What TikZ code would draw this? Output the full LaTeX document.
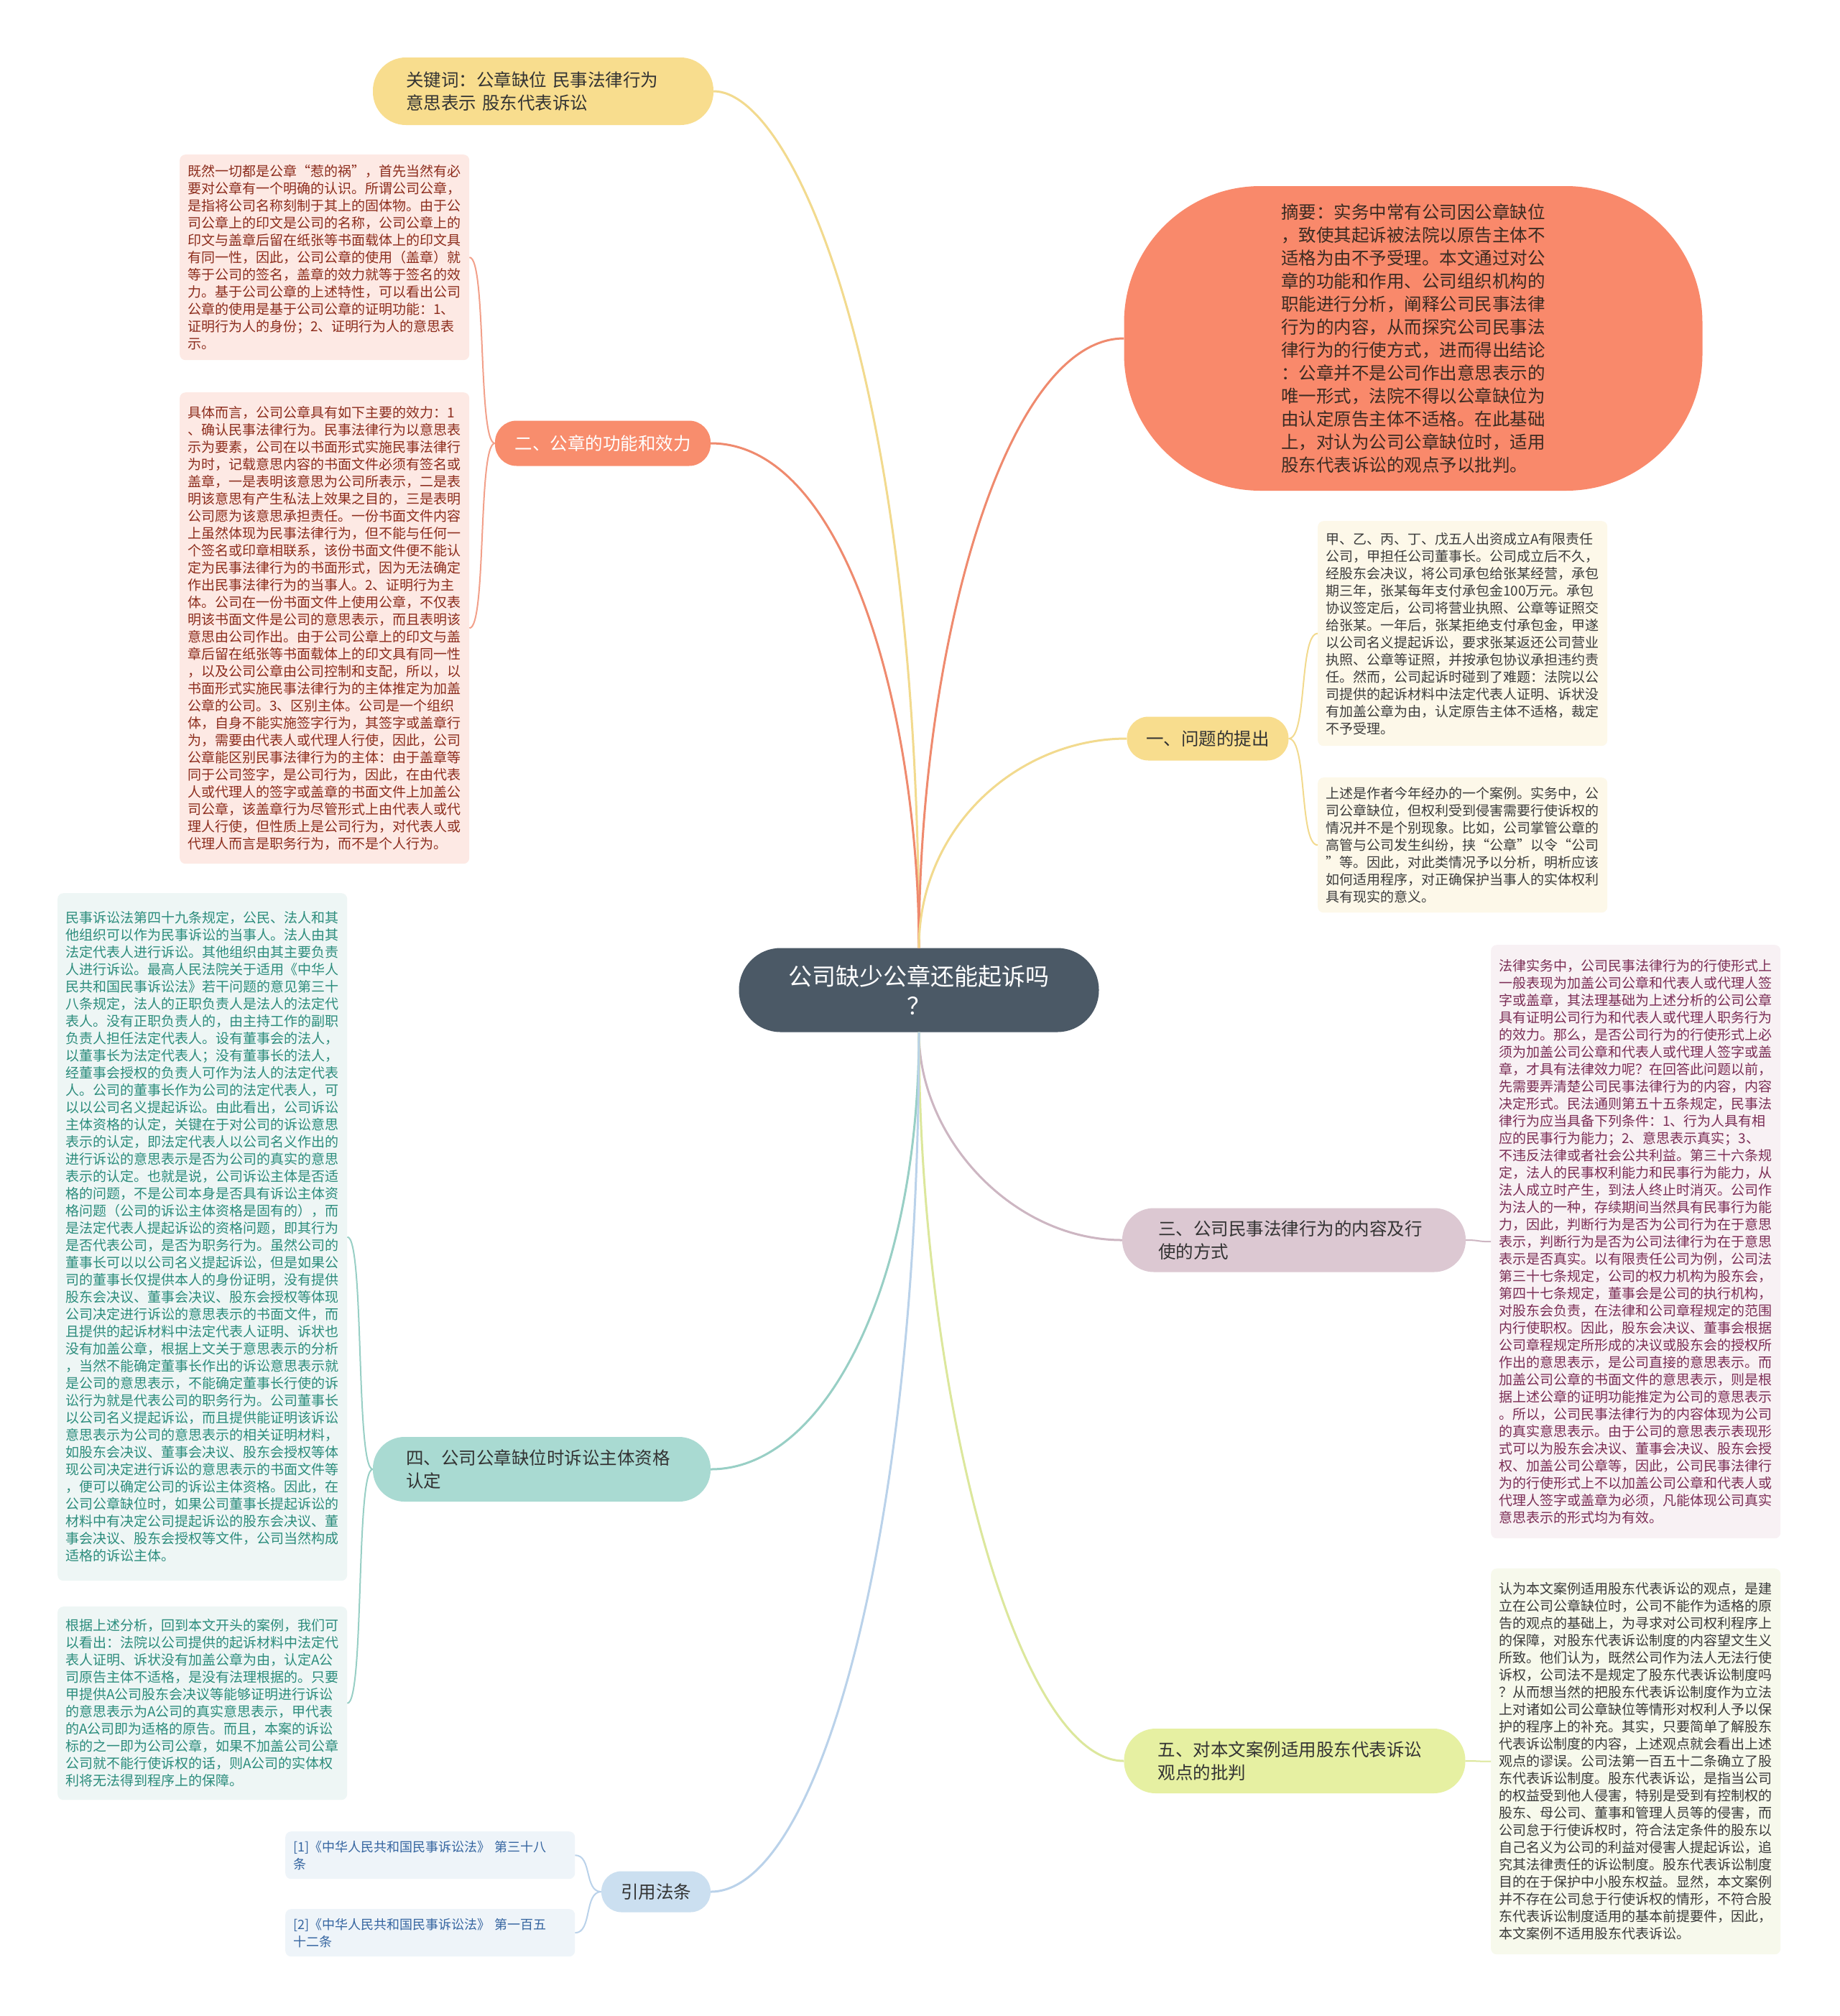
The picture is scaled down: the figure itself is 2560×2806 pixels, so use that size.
\documentclass[tikz,border=0pt]{standalone}
\usepackage{fontspec}
\setmainfont{Noto Sans CJK SC}

\definecolor{rootgray}{HTML}{4B5966}
\definecolor{inkdark}{HTML}{333333}
\definecolor{inkbrown}{HTML}{3B2B22}
\definecolor{kwyellow}{HTML}{F8DD8E}
\definecolor{kwline}{HTML}{F2DA8E}
\definecolor{salmonfill}{HTML}{F88D6D}
\definecolor{sumfill}{HTML}{F9896B}
\definecolor{salmonline}{HTML}{EF8A6E}
\definecolor{mauvefill}{HTML}{DCC8D2}
\definecolor{mauveline}{HTML}{CDB6C2}
\definecolor{tealfill}{HTML}{A9DAD2}
\definecolor{tealline}{HTML}{98CFC5}
\definecolor{limefill}{HTML}{E6F0A2}
\definecolor{limeline}{HTML}{DCE79C}
\definecolor{bluefill}{HTML}{CBDFF0}
\definecolor{blueline}{HTML}{BAD2EA}
\definecolor{rfill}{HTML}{FDE9E4}
\definecolor{rink}{HTML}{8C2C1C}
\definecolor{rline}{HTML}{F2A08A}
\definecolor{yfill}{HTML}{FDF8E9}
\definecolor{yink}{HTML}{3C3C3C}
\definecolor{pfill}{HTML}{F8F1F4}
\definecolor{pink}{HTML}{7B2D55}
\definecolor{tfill}{HTML}{EEF6F5}
\definecolor{tink}{HTML}{2B8C7C}
\definecolor{gfill}{HTML}{F7F9EC}
\definecolor{gink}{HTML}{3A3A3A}
\definecolor{reffill}{HTML}{EEF4F9}
\definecolor{refink}{HTML}{3565A0}

\begin{document}
\begin{tikzpicture}[x=1pt, y=-1pt,
  root/.style={fill=rootgray, text=white, rounded corners=58pt, minimum width=501pt, minimum height=117pt, align=center, font=\fontsize{33}{41}\selectfont},
  topic/.style={rounded corners=30pt, inner xsep=20pt, inner ysep=0pt, align=left, text=inkdark, font=\fontsize{24.5}{32}\selectfont},
  leaf/.style={anchor=north west, rounded corners=8pt, align=left, text width=381pt, inner xsep=11pt, inner ysep=4pt, font=\fontsize{19}{24}\selectfont},
  link/.style={line width=3pt},
  twig/.style={line width=2pt}
]
\fill[white] (0,0) rectangle (2560,2806);
\useasboundingbox (0,0) rectangle (2560,2806);

% centre and main topics
\node[root] (root) at (1279,1378) {公司缺少公章还能起诉吗\\？};
\node[topic, fill=kwyellow, text width=382pt, inner xsep=46pt, minimum height=94pt, rounded corners=46pt] (kw) at (756,127) {关键词：公章缺位 民事法律行为\\意思表示 股东代表诉讼};
\node[topic, fill=salmonfill, text=white, minimum width=300pt, minimum height=63pt] (b2) at (839,617) {二、公章的功能和效力};
\node[topic, fill=sumfill, text=inkbrown, text width=368pt, inner xsep=0pt, minimum width=805pt, minimum height=424pt, rounded corners=190pt] (sum) at (1967,471) {摘要：实务中常有公司因公章缺位\\，致使其起诉被法院以原告主体不\\适格为由不予受理。本文通过对公\\章的功能和作用、公司组织机构的\\职能进行分析，阐释公司民事法律\\行为的内容，从而探究公司民事法\\律行为的行使方式，进而得出结论\\：公章并不是公司作出意思表示的\\唯一形式，法院不得以公章缺位为\\由认定原告主体不适格。在此基础\\上，对认为公司公章缺位时，适用\\股东代表诉讼的观点予以批判。};
\node[topic, fill=kwyellow, minimum width=225pt, minimum height=61pt] (b1) at (1681,1028) {一、问题的提出};
\node[topic, fill=mauvefill, text width=378pt, inner xsep=50pt, minimum height=89pt, rounded corners=44pt] (b3) at (1801,1726) {三、公司民事法律行为的内容及行\\使的方式};
\node[topic, fill=tealfill, text width=378pt, inner xsep=46pt, minimum height=90pt, rounded corners=44pt] (b4) at (754,2045) {四、公司公章缺位时诉讼主体资格\\认定};
\node[topic, fill=limefill, text width=381pt, inner xsep=47pt, minimum height=90pt, rounded corners=44pt] (b5) at (1802,2451) {五、对本文案例适用股东代表诉讼\\观点的批判};
\node[topic, fill=bluefill, minimum width=152pt, minimum height=57pt, rounded corners=28pt] (bref) at (913,2633) {引用法条};

% leaves
\node[leaf, fill=rfill, text=rink, minimum height=286pt] (r1) at (250,215) {既然一切都是公章“惹的祸”，首先当然有必\\要对公章有一个明确的认识。所谓公司公章，\\是指将公司名称刻制于其上的固体物。由于公\\司公章上的印文是公司的名称，公司公章上的\\印文与盖章后留在纸张等书面载体上的印文具\\有同一性，因此，公司公章的使用（盖章）就\\等于公司的签名，盖章的效力就等于签名的效\\力。基于公司公章的上述特性，可以看出公司\\公章的使用是基于公司公章的证明功能：1、\\证明行为人的身份；2、证明行为人的意思表\\示。};
\node[leaf, fill=rfill, text=rink, minimum height=656pt] (r2) at (250,546) {具体而言，公司公章具有如下主要的效力：1\\、确认民事法律行为。民事法律行为以意思表\\示为要素，公司在以书面形式实施民事法律行\\为时，记载意思内容的书面文件必须有签名或\\盖章，一是表明该意思为公司所表示，二是表\\明该意思有产生私法上效果之目的，三是表明\\公司愿为该意思承担责任。一份书面文件内容\\上虽然体现为民事法律行为，但不能与任何一\\个签名或印章相联系，该份书面文件便不能认\\定为民事法律行为的书面形式，因为无法确定\\作出民事法律行为的当事人。2、证明行为主\\体。公司在一份书面文件上使用公章，不仅表\\明该书面文件是公司的意思表示，而且表明该\\意思由公司作出。由于公司公章上的印文与盖\\章后留在纸张等书面载体上的印文具有同一性\\，以及公司公章由公司控制和支配，所以，以\\书面形式实施民事法律行为的主体推定为加盖\\公章的公司。3、区别主体。公司是一个组织\\体，自身不能实施签字行为，其签字或盖章行\\为，需要由代表人或代理人行使，因此，公司\\公章能区别民事法律行为的主体：由于盖章等\\同于公司签字，是公司行为，因此，在由代表\\人或代理人的签字或盖章的书面文件上加盖公\\司公章，该盖章行为尽管形式上由代表人或代\\理人行使，但性质上是公司行为，对代表人或\\代理人而言是职务行为，而不是个人行为。};
\node[leaf, fill=yfill, text=yink, minimum height=313pt] (y1) at (1834,725) {甲、乙、丙、丁、戊五人出资成立A有限责任\\公司，甲担任公司董事长。公司成立后不久，\\经股东会决议，将公司承包给张某经营，承包\\期三年，张某每年支付承包金100万元。承包\\协议签定后，公司将营业执照、公章等证照交\\给张某。一年后，张某拒绝支付承包金，甲遂\\以公司名义提起诉讼，要求张某返还公司营业\\执照、公章等证照，并按承包协议承担违约责\\任。然而，公司起诉时碰到了难题：法院以公\\司提供的起诉材料中法定代表人证明、诉状没\\有加盖公章为由，认定原告主体不适格，裁定\\不予受理。};
\node[leaf, fill=yfill, text=yink, minimum height=188pt] (y2) at (1834,1082) {上述是作者今年经办的一个案例。实务中，公\\司公章缺位，但权利受到侵害需要行使诉权的\\情况并不是个别现象。比如，公司掌管公章的\\高管与公司发生纠纷，挟“公章”以令“公司\\”等。因此，对此类情况予以分析，明析应该\\如何适用程序，对正确保护当事人的实体权利\\具有现实的意义。};
\node[leaf, fill=pfill, text=pink, minimum height=826pt] (p1) at (2075,1315) {法律实务中，公司民事法律行为的行使形式上\\一般表现为加盖公司公章和代表人或代理人签\\字或盖章，其法理基础为上述分析的公司公章\\具有证明公司行为和代表人或代理人职务行为\\的效力。那么，是否公司行为的行使形式上必\\须为加盖公司公章和代表人或代理人签字或盖\\章，才具有法律效力呢？在回答此问题以前，\\先需要弄清楚公司民事法律行为的内容，内容\\决定形式。民法通则第五十五条规定，民事法\\律行为应当具备下列条件：1、行为人具有相\\应的民事行为能力；2、意思表示真实；3、\\不违反法律或者社会公共利益。第三十六条规\\定，法人的民事权利能力和民事行为能力，从\\法人成立时产生，到法人终止时消灭。公司作\\为法人的一种，存续期间当然具有民事行为能\\力，因此，判断行为是否为公司行为在于意思\\表示，判断行为是否为公司法律行为在于意思\\表示是否真实。以有限责任公司为例，公司法\\第三十七条规定，公司的权力机构为股东会，\\第四十七条规定，董事会是公司的执行机构，\\对股东会负责，在法律和公司章程规定的范围\\内行使职权。因此，股东会决议、董事会根据\\公司章程规定所形成的决议或股东会的授权所\\作出的意思表示，是公司直接的意思表示。而\\加盖公司公章的书面文件的意思表示，则是根\\据上述公章的证明功能推定为公司的意思表示\\。所以，公司民事法律行为的内容体现为公司\\的真实意思表示。由于公司的意思表示表现形\\式可以为股东会决议、董事会决议、股东会授\\权、加盖公司公章等，因此，公司民事法律行\\为的行使形式上不以加盖公司公章和代表人或\\代理人签字或盖章为必须，凡能体现公司真实\\意思表示的形式均为有效。};
\node[leaf, fill=tfill, text=tink, minimum height=957pt] (t1) at (80,1243) {民事诉讼法第四十九条规定，公民、法人和其\\他组织可以作为民事诉讼的当事人。法人由其\\法定代表人进行诉讼。其他组织由其主要负责\\人进行诉讼。最高人民法院关于适用《中华人\\民共和国民事诉讼法》若干问题的意见第三十\\八条规定，法人的正职负责人是法人的法定代\\表人。没有正职负责人的，由主持工作的副职\\负责人担任法定代表人。设有董事会的法人，\\以董事长为法定代表人；没有董事长的法人，\\经董事会授权的负责人可作为法人的法定代表\\人。公司的董事长作为公司的法定代表人，可\\以以公司名义提起诉讼。由此看出，公司诉讼\\主体资格的认定，关键在于对公司的诉讼意思\\表示的认定，即法定代表人以公司名义作出的\\进行诉讼的意思表示是否为公司的真实的意思\\表示的认定。也就是说，公司诉讼主体是否适\\格的问题，不是公司本身是否具有诉讼主体资\\格问题（公司的诉讼主体资格是固有的），而\\是法定代表人提起诉讼的资格问题，即其行为\\是否代表公司，是否为职务行为。虽然公司的\\董事长可以以公司名义提起诉讼，但是如果公\\司的董事长仅提供本人的身份证明，没有提供\\股东会决议、董事会决议、股东会授权等体现\\公司决定进行诉讼的意思表示的书面文件，而\\且提供的起诉材料中法定代表人证明、诉状也\\没有加盖公章，根据上文关于意思表示的分析\\，当然不能确定董事长作出的诉讼意思表示就\\是公司的意思表示，不能确定董事长行使的诉\\讼行为就是代表公司的职务行为。公司董事长\\以公司名义提起诉讼，而且提供能证明该诉讼\\意思表示为公司的意思表示的相关证明材料，\\如股东会决议、董事会决议、股东会授权等体\\现公司决定进行诉讼的意思表示的书面文件等\\，便可以确定公司的诉讼主体资格。因此，在\\公司公章缺位时，如果公司董事长提起诉讼的\\材料中有决定公司提起诉讼的股东会决议、董\\事会决议、股东会授权等文件，公司当然构成\\适格的诉讼主体。};
\node[leaf, fill=tfill, text=tink, minimum height=269pt] (t2) at (80,2236) {根据上述分析，回到本文开头的案例，我们可\\以看出：法院以公司提供的起诉材料中法定代\\表人证明、诉状没有加盖公章为由，认定A公\\司原告主体不适格，是没有法理根据的。只要\\甲提供A公司股东会决议等能够证明进行诉讼\\的意思表示为A公司的真实意思表示，甲代表\\的A公司即为适格的原告。而且，本案的诉讼\\标的之一即为公司公章，如果不加盖公司公章\\公司就不能行使诉权的话，则A公司的实体权\\利将无法得到程序上的保障。};
\node[leaf, fill=gfill, text=gink, minimum height=537pt] (g1) at (2075,2183) {认为本文案例适用股东代表诉讼的观点，是建\\立在公司公章缺位时，公司不能作为适格的原\\告的观点的基础上，为寻求对公司权利程序上\\的保障，对股东代表诉讼制度的内容望文生义\\所致。他们认为，既然公司作为法人无法行使\\诉权，公司法不是规定了股东代表诉讼制度吗\\？从而想当然的把股东代表诉讼制度作为立法\\上对诸如公司公章缺位等情形对权利人予以保\\护的程序上的补充。其实，只要简单了解股东\\代表诉讼制度的内容，上述观点就会看出上述\\观点的谬误。公司法第一百五十二条确立了股\\东代表诉讼制度。股东代表诉讼，是指当公司\\的权益受到他人侵害，特别是受到有控制权的\\股东、母公司、董事和管理人员等的侵害，而\\公司怠于行使诉权时，符合法定条件的股东以\\自己名义为公司的利益对侵害人提起诉讼，追\\究其法律责任的诉讼制度。股东代表诉讼制度\\目的在于保护中小股东权益。显然，本文案例\\并不存在公司怠于行使诉权的情形，不符合股\\东代表诉讼制度适用的基本前提要件，因此，\\本文案例不适用股东代表诉讼。};
\node[leaf, fill=reffill, text=refink, minimum height=66pt, font=\fontsize{18}{24}\selectfont] (ref1) at (397,2549) {[1]《中华人民共和国民事诉讼法》~第三十八\\条};
\node[leaf, fill=reffill, text=refink, minimum height=66pt, font=\fontsize{18}{24}\selectfont] (ref2) at (397,2657) {[2]《中华人民共和国民事诉讼法》~第一百五\\十二条};

% connectors from the centre
\draw[link, draw=kwline] (root.north) .. controls +(0,-800) and +(110,0) .. (kw.east);
\draw[link, draw=salmonline] (root.north) .. controls +(0,-320) and +(190,0) .. (b2.east);
\draw[link, draw=salmonline] (root.north) .. controls +(0,-420) and +(-165,0) .. (sum.west);
\draw[link, draw=kwline] (root.north) .. controls +(0,-170) and +(-150,0) .. (b1.west);
\draw[link, draw=mauveline] (root.south) .. controls +(0,150) and +(-150,0) .. (b3.west);
\draw[link, draw=tealline] (root.south) .. controls +(0,350) and +(160,0) .. (b4.east);
\draw[link, draw=limeline] (root.south) .. controls +(0,500) and +(-150,0) .. (b5.west);
\draw[link, draw=blueline] (root.south) .. controls +(0,700) and +(150,0) .. (bref.east);

% topics to leaves
\draw[twig, draw=rline] (b2.west) .. controls +(-24,0) and +(24,0) .. (r1.east);
\draw[twig, draw=rline] (b2.west) .. controls +(-24,0) and +(24,0) .. (r2.east);
\draw[twig, draw=kwline] (b1.east) .. controls +(26,0) and +(-26,0) .. (y1.west);
\draw[twig, draw=kwline] (b1.east) .. controls +(26,0) and +(-26,0) .. (y2.west);
\draw[twig, draw=mauveline] (b3.east) .. controls +(20,0) and +(-20,0) .. (p1.west);
\draw[twig, draw=tealline] (b4.west) .. controls +(-24,0) and +(24,0) .. (t1.east);
\draw[twig, draw=tealline] (b4.west) .. controls +(-24,0) and +(24,0) .. (t2.east);
\draw[twig, draw=limeline] (b5.east) .. controls +(20,0) and +(-20,0) .. (g1.west);
\draw[twig, draw=blueline] (bref.west) .. controls +(-24,0) and +(24,0) .. (ref1.east);
\draw[twig, draw=blueline] (bref.west) .. controls +(-24,0) and +(24,0) .. (ref2.east);
\end{tikzpicture}
\end{document}
